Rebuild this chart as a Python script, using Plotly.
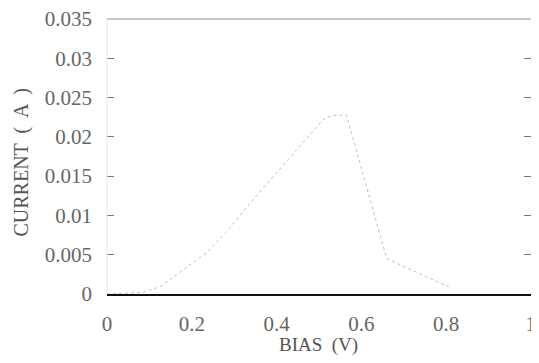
import plotly.graph_objects as go

# I-V curve readings (bias in V, current in A)
bias = [0.0, 0.05, 0.085, 0.10, 0.125, 0.236, 0.26, 0.28, 0.335, 0.51, 0.53, 0.565, 0.66, 0.806]
current = [0.0, 0.0001, 0.0002, 0.0005, 0.0009, 0.0053, 0.0066, 0.0078, 0.0114, 0.0222, 0.0227, 0.0228, 0.0045, 0.0009]

x_ticks = [0, 0.2, 0.4, 0.6, 0.8, 1]
x_tick_text = ["0", "0.2", "0.4", "0.6", "0.8", "1"]
y_ticks = [0, 0.005, 0.01, 0.015, 0.02, 0.025, 0.03, 0.035]
y_tick_text = ["0", "0.005", "0.01", "0.015", "0.02", "0.025", "0.03", "0.035"]

font_family = "Liberation Serif"
ink = "#666666"
title_ink = "#555555"

fig = go.Figure()
fig.add_trace(go.Scatter(
    x=bias, y=current, mode="lines",
    line=dict(color="#c0c0c0", width=1, dash="dot"),
    showlegend=False,
))

# the page body adds an 8 px offset, so the figure is sized to fit inside the window
fig.update_layout(
    width=531, height=347,
    margin=dict(l=99, r=8, t=11, b=61),
    paper_bgcolor="white", plot_bgcolor="white",
    font=dict(family=font_family, size=21, color=ink),
    xaxis=dict(
        range=[0, 1.0005], tickvals=x_ticks, ticktext=x_tick_text,
        showgrid=False, zeroline=False, automargin=False,
        showline=True, linecolor="#111111", linewidth=2,
        ticks="", ticklabelstandoff=10, ticklabeloverflow="allow",
    ),
    yaxis=dict(
        range=[0, 0.035], tickvals=y_ticks, ticktext=y_tick_text,
        showgrid=False, zeroline=False, automargin=False,
        showline=False, mirror="ticks",
        ticks="inside", ticklen=7, tickcolor="#777777", tickwidth=1,
        ticklabelstandoff=14, ticklabeloverflow="allow",
    ),
)

# axis titles
fig.add_annotation(text="BIAS  (V)", xref="paper", yref="paper", x=0.498, y=0,
                   yshift=-51, showarrow=False, xanchor="center", yanchor="middle",
                   font=dict(family=font_family, size=19, color=title_ink))
fig.add_annotation(text="CURRENT  (  A  )", xref="paper", yref="paper", x=0, y=0.5,
                   xshift=-86, yshift=-6, showarrow=False, xanchor="center", yanchor="middle",
                   textangle=-90,
                   font=dict(family=font_family, size=20, color=title_ink))

# faded top and left frame lines
fig.add_shape(type="line", xref="paper", yref="paper", x0=0, x1=1, y0=1, y1=1,
              line=dict(color="#909090", width=1))
fig.add_shape(type="line", xref="paper", yref="paper", x0=0, x1=0, y0=0, y1=1,
              line=dict(color="#e4e4e4", width=1))

fig.write_html("out.html")
